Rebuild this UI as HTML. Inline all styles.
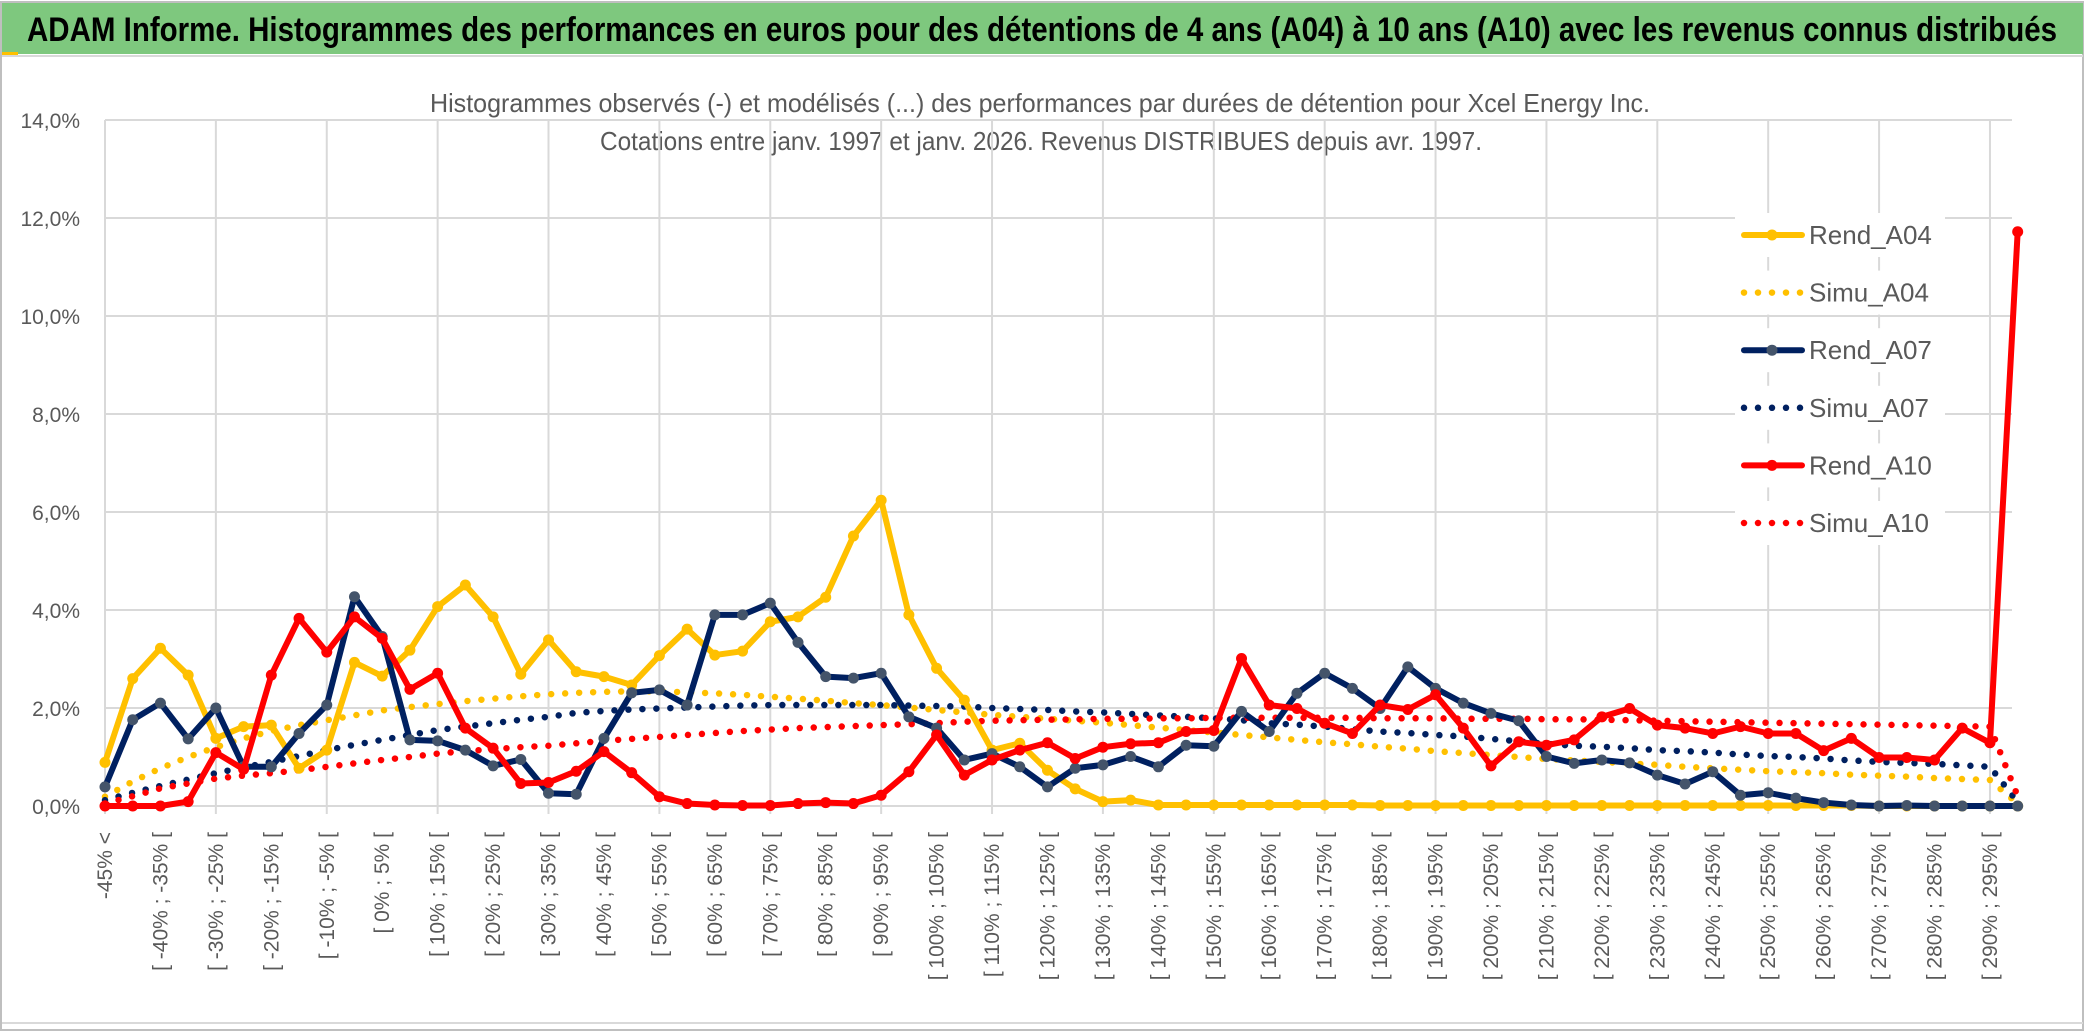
<!DOCTYPE html>
<html><head><meta charset="utf-8"><style>
html,body{margin:0;padding:0;background:#fff;}
svg{display:block;}
text{font-family:"Liberation Sans",sans-serif;}
</style></head><body>
<svg id="chart" width="2086" height="1033" viewBox="0 0 2086 1033" xmlns="http://www.w3.org/2000/svg">
<rect x="0" y="0" width="2086" height="1033" fill="#fff"/>
<rect x="1" y="2" width="2082" height="1028" fill="none" stroke="#bfbfbf" stroke-width="2"/>
<rect x="2" y="3" width="2081" height="51" fill="#7ec87e"/>
<rect x="2" y="52" width="16" height="3" fill="#ffc000"/>
<line x1="2" y1="56" x2="2083" y2="56" stroke="#d9d9d9" stroke-width="2"/>
<text x="27" y="41" font-size="34" font-weight="bold" fill="#000" textLength="2030" lengthAdjust="spacingAndGlyphs">ADAM Informe. Histogrammes des performances en euros pour des détentions de 4 ans (A04) à 10 ans (A10) avec les revenus connus distribués</text>
<text x="430" y="112" font-size="26" fill="#595959" textLength="1220" lengthAdjust="spacingAndGlyphs">Histogrammes observés (-) et modélisés (...) des performances par durées de détention pour Xcel Energy Inc.</text>
<text x="600" y="150" font-size="26" fill="#595959" textLength="882" lengthAdjust="spacingAndGlyphs">Cotations entre janv. 1997 et janv. 2026. Revenus DISTRIBUES depuis avr. 1997.</text>
<g id="grid"></g>
<g id="ylabels"></g>
<g id="xlabels"></g>
<g id="series"></g>
<g id="legend"></g>
<line x1="2" y1="1023" x2="2083" y2="1023" stroke="#d9d9d9" stroke-width="2"/>
</svg>
<script>
const categories = ["-45% <"];
for (let k = 1; k < 70; k++) { const a = -50 + 5 * k; categories.push("[ " + a + "% ; " + (a + 5) + "% ["); }
const yTicks = [0, 2, 4, 6, 8, 10, 12, 14];
const yTickLabels = ["0,0%", "2,0%", "4,0%", "6,0%", "8,0%", "10,0%", "12,0%", "14,0%"];
const rendA04 = [0.89,2.6,3.22,2.67,1.38,1.62,1.65,0.77,1.14,2.93,2.65,3.18,4.07,4.51,3.86,2.69,3.39,2.74,2.64,2.47,3.07,3.61,3.08,3.16,3.76,3.86,4.26,5.51,6.24,3.9,2.81,2.16,1.14,1.28,0.73,0.35,0.09,0.12,0.02,0.02,0.02,0.02,0.02,0.02,0.02,0.02,0.01,0.01,0.01,0.01,0.01,0.01,0.01,0.01,0.01,0.01,0.01,0.01,0.01,0.01,0.01,0.01,0.01,0.01,0,0,0,0,0,0];
const simuA04 = [0.19,0.5,0.77,1.0,1.2,1.38,1.53,1.65,1.75,1.85,1.95,2.02,2.08,2.14,2.19,2.24,2.28,2.31,2.33,2.34,2.34,2.32,2.3,2.27,2.23,2.19,2.15,2.1,2.06,2.01,1.96,1.91,1.86,1.82,1.78,1.74,1.7,1.65,1.6,1.55,1.5,1.45,1.4,1.35,1.3,1.26,1.21,1.17,1.12,1.08,1.04,1.0,0.96,0.93,0.9,0.87,0.84,0.8,0.77,0.74,0.71,0.69,0.67,0.64,0.62,0.6,0.57,0.55,0.53,0.05];
const rendA07 = [0.39,1.76,2.1,1.37,2.0,0.8,0.8,1.48,2.06,4.27,3.46,1.35,1.33,1.14,0.82,0.95,0.26,0.24,1.38,2.31,2.37,2.06,3.9,3.9,4.14,3.34,2.64,2.61,2.71,1.82,1.59,0.94,1.07,0.8,0.39,0.77,0.84,1.01,0.8,1.24,1.22,1.93,1.52,2.3,2.71,2.4,1.99,2.84,2.4,2.1,1.89,1.74,1.01,0.87,0.94,0.88,0.63,0.45,0.7,0.22,0.27,0.16,0.07,0.02,0,0.01,0,0,0,0];
const simuA07 = [0.12,0.27,0.41,0.54,0.67,0.79,0.9,1.02,1.14,1.25,1.35,1.45,1.55,1.62,1.69,1.76,1.82,1.9,1.94,1.97,1.99,2.01,2.03,2.05,2.06,2.06,2.06,2.06,2.06,2.05,2.04,2.03,2.0,1.98,1.96,1.93,1.91,1.88,1.85,1.82,1.79,1.75,1.69,1.66,1.62,1.57,1.52,1.49,1.45,1.42,1.37,1.32,1.27,1.23,1.21,1.18,1.14,1.12,1.09,1.05,1.02,1.0,0.97,0.93,0.9,0.88,0.86,0.83,0.8,0.08];
const rendA10 = [0,0,0,0.09,1.09,0.75,2.67,3.83,3.14,3.86,3.42,2.38,2.71,1.59,1.18,0.46,0.48,0.71,1.11,0.68,0.19,0.05,0.02,0.01,0.01,0.05,0.07,0.05,0.22,0.7,1.45,0.63,0.94,1.14,1.29,0.97,1.2,1.27,1.29,1.52,1.54,3.01,2.06,1.99,1.69,1.48,2.06,1.97,2.27,1.59,0.82,1.31,1.24,1.35,1.82,1.99,1.65,1.59,1.48,1.62,1.48,1.48,1.13,1.38,0.99,0.99,0.94,1.59,1.29,11.72];
const simuA10 = [0.05,0.2,0.36,0.46,0.56,0.62,0.67,0.73,0.8,0.87,0.94,1.0,1.07,1.12,1.16,1.2,1.23,1.28,1.33,1.37,1.41,1.45,1.49,1.53,1.56,1.59,1.61,1.63,1.65,1.67,1.69,1.72,1.74,1.75,1.76,1.77,1.78,1.78,1.79,1.79,1.8,1.8,1.8,1.8,1.8,1.8,1.79,1.79,1.79,1.78,1.78,1.78,1.77,1.77,1.76,1.75,1.74,1.73,1.72,1.71,1.7,1.69,1.68,1.67,1.66,1.65,1.64,1.63,1.62,0.2];

const NS = "http://www.w3.org/2000/svg";
const X0 = 105, DX = 27.72, Y0 = 806, PX_PER_PCT = 49, XR = 2012;
function xPos(i) { return X0 + DX * i; }
function yPos(v) { return Y0 - v * PX_PER_PCT; }
function mk(tag, attrs, parent) { const e = document.createElementNS(NS, tag); for (const k in attrs) e.setAttribute(k, attrs[k]); parent.appendChild(e); return e; }

const grid = document.getElementById('grid');
yTicks.forEach((t, i) => {
  const l = mk('line', {x1: X0, x2: XR, y1: yPos(t), y2: yPos(t), stroke: '#d9d9d9', 'stroke-width': 2}, grid);
  
  
  const tx = mk('text', {x: 80, y: yPos(t) + 8, 'text-anchor': 'end', 'font-size': 21, fill: '#595959'}, document.getElementById('ylabels'));
  tx.textContent = yTickLabels[i];
  
  
});
for (let i = 0; i < categories.length; i += 4) {
  const l = mk('line', {x1: xPos(i), x2: xPos(i), y1: yPos(14), y2: Y0 + 8, stroke: '#d9d9d9', 'stroke-width': 2}, grid);
  
  
}
const xl = document.getElementById('xlabels');
categories.forEach((c, i) => {
  if (i !== 0 && i % 2 === 1) return;
  const x = xPos(i) + 7, y = 832;
  const t = mk('text', {x: x, y: y, 'text-anchor': 'end', 'font-size': 21, fill: '#595959', transform: 'rotate(-90 ' + x + ' ' + y + ')'}, xl);
  t.textContent = c;
  
  
});

const sg = document.getElementById('series');
function dotted(vals, color, name) {
  const p = mk('polyline', {points: vals.map((v, i) => xPos(i) + ',' + yPos(v)).join(' '), fill: 'none', stroke: color, 'stroke-width': 6.5, 'stroke-linecap': 'round', 'stroke-dasharray': '0 14'}, sg);
  
  
}
function solid(vals, color, mcolor, name) {
  const g = mk('g', {}, sg);
  
  
  mk('polyline', {points: vals.map((v, i) => xPos(i) + ',' + yPos(v)).join(' '), fill: 'none', stroke: color, 'stroke-width': 6, 'stroke-linejoin': 'round'}, g);
  vals.forEach((v, i) => {
    const c = mk('circle', {cx: xPos(i), cy: yPos(v), r: 5.5, fill: mcolor}, g);
    
    
  });
}
dotted(simuA04, '#ffc000', 'simu-a04-line');
dotted(simuA07, '#002060', 'simu-a07-line');
dotted(simuA10, '#ff0000', 'simu-a10-line');
solid(rendA04, '#ffc000', '#ffc000', 'rend-a04-line');
solid(rendA07, '#002060', '#44546a', 'rend-a07-line');
solid(rendA10, '#ff0000', '#ff0000', 'rend-a10-line');

const lg = document.getElementById('legend');
const legendItems = [["Rend_A04", '#ffc000', '#ffc000', false], ["Simu_A04", '#ffc000', null, true], ["Rend_A07", '#002060', '#44546a', false], ["Simu_A07", '#002060', null, true], ["Rend_A10", '#ff0000', '#ff0000', false], ["Simu_A10", '#ff0000', null, true]];
legendItems.forEach((it, i) => {
  const y = 235 + i * 57.6;
  const g = mk('g', {}, lg);
  
  
  mk('rect', {x: 1735, y: y - 22, width: 210, height: 44, fill: '#fff'}, g);
  if (it[3]) {
    mk('line', {x1: 1744, x2: 1802, y1: y, y2: y, stroke: it[1], 'stroke-width': 6.5, 'stroke-linecap': 'round', 'stroke-dasharray': '0 14'}, g);
  } else {
    mk('line', {x1: 1744, x2: 1802, y1: y, y2: y, stroke: it[1], 'stroke-width': 6, 'stroke-linecap': 'round'}, g);
    mk('circle', {cx: 1772, cy: y, r: 5.5, fill: it[2]}, g);
  }
  const t = mk('text', {x: 1809, y: y + 9, 'font-size': 26, fill: '#595959'}, g);
  t.textContent = it[0];
});
</script>
</body></html>
